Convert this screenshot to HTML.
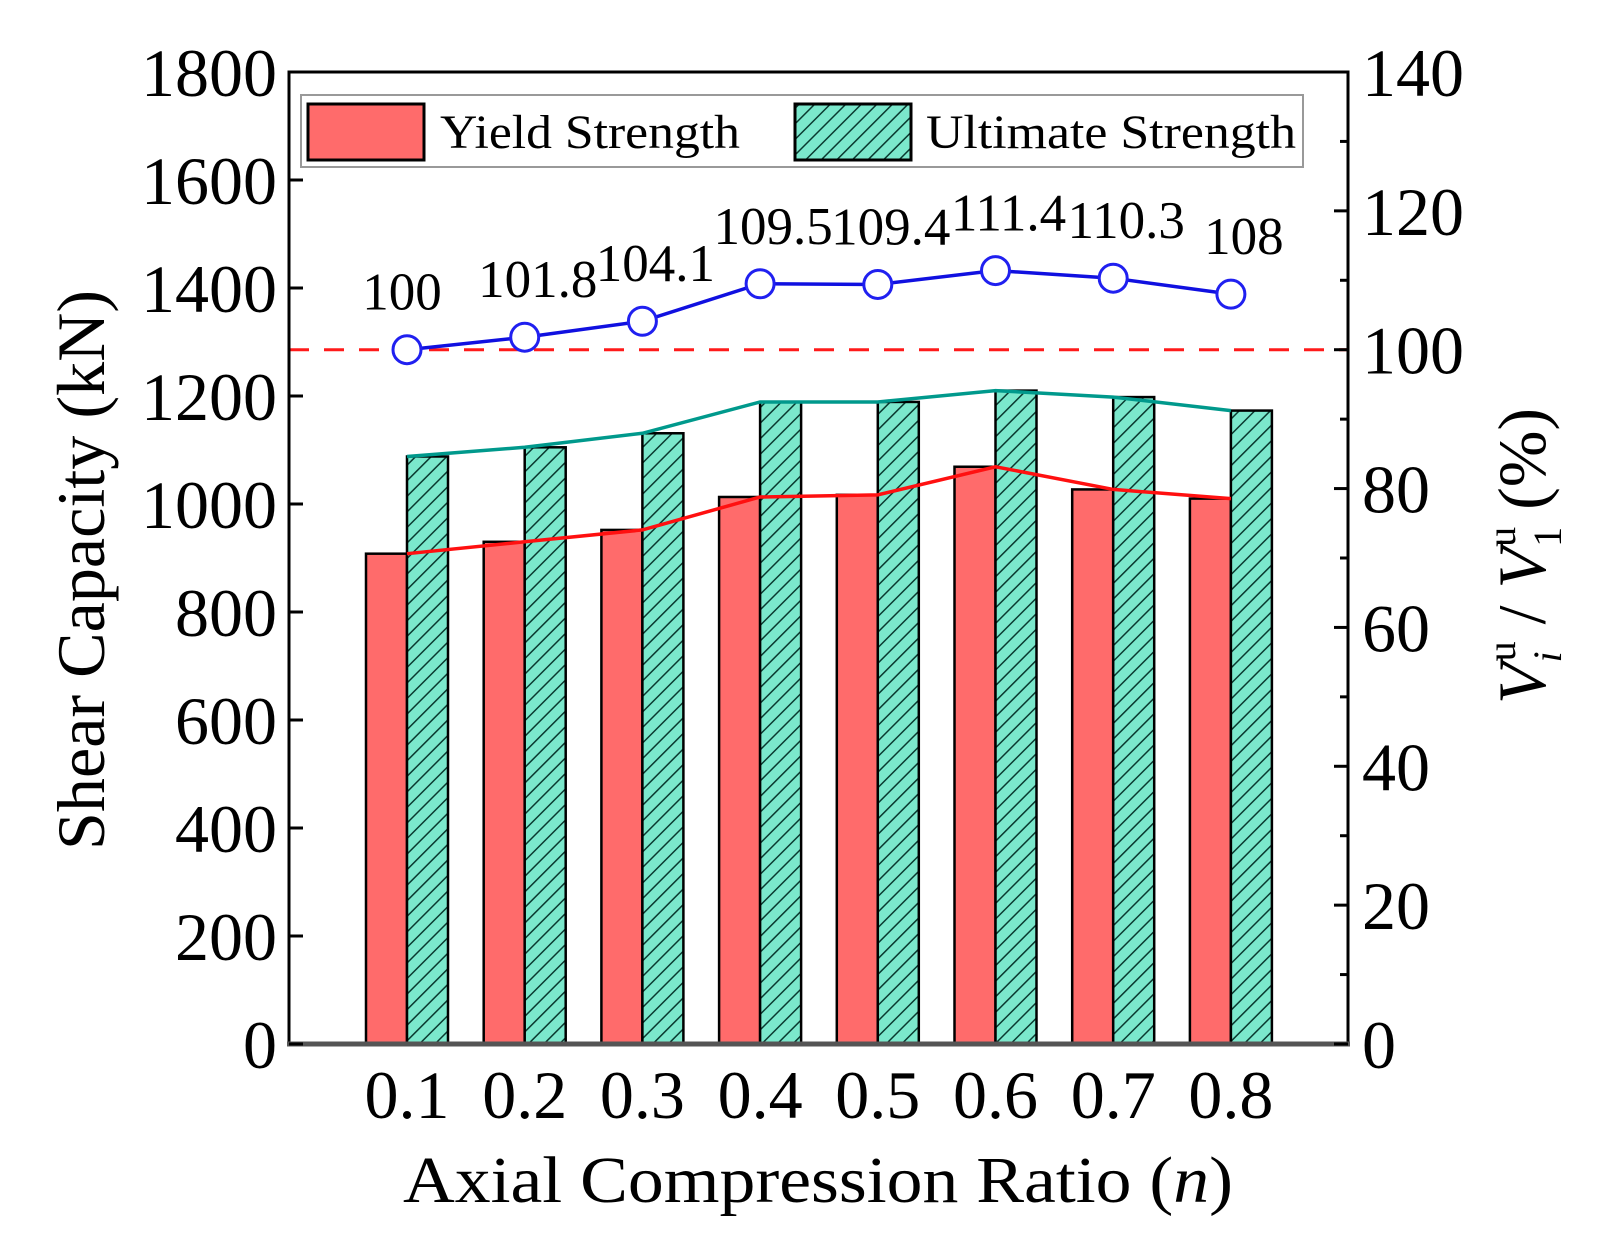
<!DOCTYPE html>
<html><head><meta charset="utf-8"><style>
html,body{margin:0;padding:0;background:#fff;}
svg{display:block;font-family:"Liberation Serif",serif;}
</style></head><body>
<svg id="chart" width="1615" height="1244" viewBox="0 0 1615 1244">
<defs>
<pattern id="hatch" patternUnits="userSpaceOnUse" width="11" height="11" patternTransform="rotate(45)">
<rect width="11" height="11" fill="#7be8cc"/>
<line x1="0" y1="0" x2="0" y2="11" stroke="#0a3a30" stroke-width="3"/>
</pattern>
</defs>
<g id="bars"></g>
<g id="lines"></g>
<g id="axes"></g>
<g>
<rect x="301" y="95" width="1002" height="72" fill="#fff" stroke="#999" stroke-width="2"/>
<rect x="308" y="104" width="116" height="56" fill="#ff6b6b" stroke="#000" stroke-width="3"/>
<text x="440" y="148" font-size="48" textLength="300" lengthAdjust="spacingAndGlyphs">Yield Strength</text>
<rect x="795" y="104" width="116" height="56" fill="url(#hatch)" stroke="#000" stroke-width="3"/>
<text x="926" y="148" font-size="48" textLength="370" lengthAdjust="spacingAndGlyphs">Ultimate Strength</text>
</g>
<text x="0" y="0" font-size="68" text-anchor="middle" transform="translate(104,570) rotate(-90)" textLength="560" lengthAdjust="spacingAndGlyphs">Shear Capacity (kN)</text>
<text x="0" y="0" font-size="68" text-anchor="middle" transform="translate(1545,556) rotate(-90)"><tspan font-style="italic">V</tspan><tspan font-size="40" font-style="italic" dy="16">i</tspan><tspan font-size="40" dx="-10" dy="-46">u</tspan><tspan dy="30"> / </tspan><tspan font-style="italic">V</tspan><tspan font-size="40" dy="16">1</tspan><tspan font-size="40" dx="-20" dy="-46">u</tspan><tspan dy="30"> (%)</tspan></text>
<text x="818" y="1202" font-size="66" text-anchor="middle" textLength="830" lengthAdjust="spacingAndGlyphs">Axial Compression Ratio (<tspan font-style="italic">n</tspan>)</text>
</svg>
<script>
const categories = ["0.1","0.2","0.3","0.4","0.5","0.6","0.7","0.8"];
const yieldValues = [908, 930, 952, 1013, 1017, 1069, 1027, 1010];
const ultimateValues = [1088, 1105, 1131, 1189, 1189, 1210, 1198, 1173];
const ratioValues = [100, 101.8, 104.1, 109.5, 109.4, 111.4, 110.3, 108];
const ratioLabels = ["100","101.8","104.1","109.5","109.4","111.4","110.3","108"];
const leftTicks = [0,200,400,600,800,1000,1200,1400,1600,1800];
const rightTicks = [0,20,40,60,80,100,120,140];

const NS = "http://www.w3.org/2000/svg";
const L = 289, R = 1348, T = 72, B = 1044;
const yL = v => B - v * (B - T) / 1800;
const yR = v => B - v * (B - T) / 140;
const xC = i => 407 + i * 117.7;
const BW = 41;
function mk(tag, attrs, parent, txt) {
  const e = document.createElementNS(NS, tag);
  for (const k in attrs) e.setAttribute(k, attrs[k]);
  if (txt !== undefined) e.textContent = txt;
  parent.appendChild(e);
  return e;
}
const gb = document.getElementById('bars'), gl = document.getElementById('lines'), ga = document.getElementById('axes');
categories.forEach((c, i) => {
  const x = xC(i);
  const r1 = mk('rect', {x: x - BW, y: yL(yieldValues[i]), width: BW, height: B - yL(yieldValues[i]), fill: '#ff6b6b', stroke: '#000', 'stroke-width': 2.5}, gb);
  
  
  const r2 = mk('rect', {x: x, y: yL(ultimateValues[i]), width: BW, height: B - yL(ultimateValues[i]), fill: 'url(#hatch)', stroke: '#000', 'stroke-width': 2.5}, gb);
  
  
});
const dl = mk('line', {x1: L, x2: R, y1: yR(100), y2: yR(100), stroke: '#ff1a1a', 'stroke-width': 3, 'stroke-dasharray': '20 15'}, gl);


const pl = (vals, f, col, name) => {
  const p = mk('polyline', {points: vals.map((v, i) => xC(i) + ',' + f(v)).join(' '), fill: 'none', stroke: col, 'stroke-width': 3.5}, gl);
  
  
};
pl(yieldValues, yL, '#ff1010', 'yield-line');
pl(ultimateValues, yL, '#00998c', 'ultimate-line');
pl(ratioValues, yR, '#1010e0', 'ratio-line');
ratioValues.forEach((v, i) => {
  const c = mk('circle', {cx: xC(i), cy: yR(v), r: 14, fill: '#fff', stroke: '#2020f0', 'stroke-width': 3}, gl);
  
  
  const t = mk('text', {x: xC(i) + (i === 0 ? -5 : 13), y: yR(v) - 40, 'font-size': 53, 'text-anchor': 'middle'}, gl, ratioLabels[i]);
  
  
});
const fr = mk('path', {d: `M${L},${B} L${L},${T} L${R},${T} L${R},${B}`, fill: 'none', stroke: '#000', 'stroke-width': 3}, ga);


const bx = mk('line', {x1: L - 2, x2: R + 2, y1: B, y2: B, stroke: '#555', 'stroke-width': 5}, ga);


leftTicks.forEach(v => {
  mk('line', {x1: L, x2: L + 14, y1: yL(v), y2: yL(v), stroke: '#000', 'stroke-width': 3}, ga);
  const t = mk('text', {x: L - 12, y: yL(v) + 24, 'font-size': 68, 'text-anchor': 'end'}, ga, String(v));
  
  
});
for (let v = 10; v < 140; v += 20) mk('line', {x1: R, x2: R - 8, y1: yR(v), y2: yR(v), stroke: '#000', 'stroke-width': 3}, ga);
rightTicks.forEach(v => {
  mk('line', {x1: R, x2: R - 14, y1: yR(v), y2: yR(v), stroke: '#000', 'stroke-width': 3}, ga);
  const t = mk('text', {x: R + 14, y: yR(v) + 24, 'font-size': 68, 'text-anchor': 'start'}, ga, String(v));
  
  
});
categories.forEach((c, i) => {
  const t = mk('text', {x: xC(i), y: 1118, 'font-size': 68, 'text-anchor': 'middle'}, ga, c);
  
  
});
</script>
</body></html>
